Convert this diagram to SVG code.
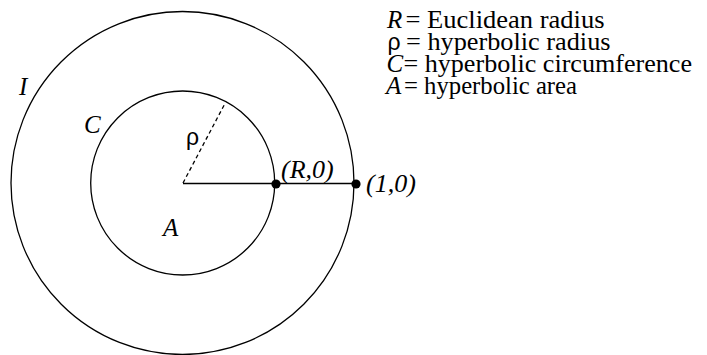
<svg xmlns="http://www.w3.org/2000/svg" width="707" height="355" viewBox="0 0 707 355">
<style>
.c{fill:none;stroke:#000;stroke-width:1.3}
.lbl{font-family:'Liberation Serif','Times New Roman',serif;font-style:italic;font-size:25px;fill:#000}
.leg{font-family:'Liberation Serif','Times New Roman',serif;font-size:25px;fill:#000}
.sans{font-family:'Liberation Sans',Arial,sans-serif;font-style:normal;font-size:23px;fill:#000}
.dot{fill:#000}
</style>
<rect width="707" height="355" fill="#fff"/>
<g id="outer-circle"><circle class="c" cx="182.5" cy="183" r="171.5"/></g>
<g id="inner-circle"><circle class="c" cx="182.7" cy="183" r="92"/></g>
<g id="connectors">
<line class="c" x1="183" y1="183.5" x2="356" y2="183.5"/>
<line class="c" x1="183" y1="183" x2="225.5" y2="102.5" stroke-dasharray="4,3"/>
</g>
<g id="point-R"><circle class="dot" cx="276" cy="184" r="4.6"/></g>
<g id="point-1"><circle class="dot" cx="356" cy="184" r="4.6"/></g>
<g id="labels">
<text class="lbl" x="19" y="94.5">I</text>
<text class="lbl" x="84" y="133">C</text>
<text class="lbl" x="163" y="235.5">A</text>
<text class="sans" x="186" y="144.5">ρ</text>
<text class="lbl" x="281" y="177.7" style="font-size:26px">(R,0)</text>
<text class="lbl" x="366" y="191.5" style="font-size:26px">(1,0)</text>
</g>
<g id="legend">
<text class="lbl" x="387" y="27.5">R</text>
<text class="leg" x="405.5" y="27.5" textLength="199" lengthAdjust="spacingAndGlyphs">= Euclidean radius</text>
<text class="sans" x="387.5" y="49.5">ρ</text>
<text class="leg" x="406" y="49.5" textLength="204.5" lengthAdjust="spacingAndGlyphs">= hyperbolic radius</text>
<text class="lbl" x="386.5" y="71.5">C</text>
<text class="leg" x="403.5" y="71.5" textLength="288.5" lengthAdjust="spacingAndGlyphs">= hyperbolic circumference</text>
<text class="lbl" x="386" y="93.5">A</text>
<text class="leg" x="404" y="93.5" textLength="173" lengthAdjust="spacingAndGlyphs">= hyperbolic area</text>
</g>
</svg>
